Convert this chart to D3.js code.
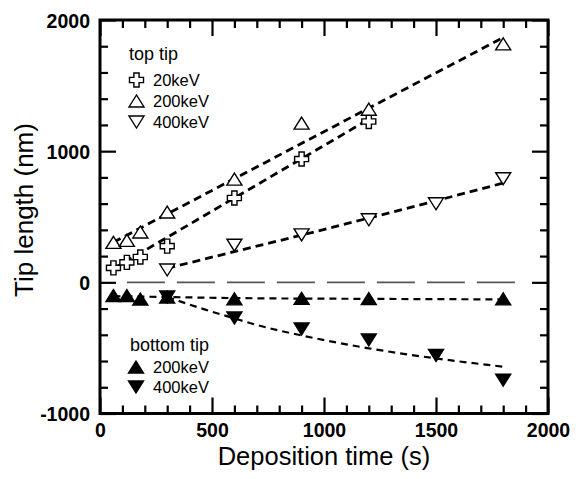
<!DOCTYPE html>
<html>
<head>
<meta charset="utf-8">
<script src="https://cdn.jsdelivr.net/npm/d3@7"></script>
<style>
  body { margin: 0; background: #fff; }
  text { font-family: "Liberation Sans", Arial, sans-serif; fill: #000; }
</style>
</head>
<body>
<div id="chart"></div>
<script>

// Data: deposition time (s) vs tip length (nm)

var top20Time = [60, 120, 180, 300, 600, 900, 1200]
var top20Len = [110, 152, 193, 276, 643, 940, 1226]

var top200Time = [60, 120, 180, 300, 600, 900, 1200, 1800]
var top200Len = [305, 320, 384, 536, 787, 1214, 1320, 1818]

var top400Time = [300, 600, 900, 1200, 1500, 1800]
var top400Len = [94, 283, 362, 477, 599, 790]

var bot200Time = [60, 120, 180, 300, 600, 900, 1200, 1800]
var bot200Len = [-101, -101, -128, -112, -126, -122, -124, -126]

var bot400Time = [300, 600, 900, 1200, 1500, 1800]
var bot400Len = [-112, -272, -355, -439, -558, -746]

// fitted curves, [time, length]
var fitTop20 = [[60, 103], [1200, 1243]]
var fitTop200 = [[60, 306], [1790, 1857]]
var fitTop400 = [[300, 107], [600, 234], [900, 360], [1200, 490], [1500, 622], [1800, 757]]
var fitBot200 = [[60, -105], [300, -112], [600, -120], [1200, -126], [1810, -130]]
var fitBot400 = [[300, -112], [470, -208], [600, -275], [700, -325], [900, -405], [1200, -503], [1500, -580], [1810, -645]]
var zeroLine = [[120, 0], [1880, 0]]

var xMajor = [0, 500, 1000, 1500, 2000]
var yMajor = [-1000, 0, 1000, 2000]

var topLegend = ["20keV", "200keV", "400keV"]
var bottomLegend = ["200keV", "400keV"]


// Layout

var W = 580, H = 479

var svg = d3.select("#chart").append("svg")
  .attr("width", W)
  .attr("height", H)

svg.append("rect").attr("width", W).attr("height", H).attr("fill", "#fff")

var x = d3.scaleLinear().domain([0, 2000]).range([100, 548])
var y = d3.scaleLinear().domain([-1000, 2000]).range([413.5, 20])

var xMinor = d3.range(0, 2001, 100).filter(v => v % 500 != 0)
var yMinor = d3.range(-1000, 2001, 200).filter(v => v % 1000 != 0)

var fmt = d => String(d)


// Axes (ticks point inward on all four sides)

var tickStyle = function (g) {
  g.select(".domain").remove()
  g.selectAll(".tick line").attr("stroke", "#000").attr("stroke-width", 2.2)
  g.selectAll(".tick text")
    .style("font-family", '"Liberation Sans", Arial, sans-serif')
    .style("font-weight", "bold")
    .style("font-size", "19.5px")
    .attr("fill", "#000")
}

var addAxis = function (axis, tx, ty) {
  return svg.append("g")
    .attr("transform", `translate(${tx},${ty})`)
    .call(axis)
    .call(tickStyle)
}

// bottom
addAxis(d3.axisBottom(x).tickValues(xMajor).tickSize(-16).tickPadding(9.5).tickFormat(fmt), 0, y(-1000))
addAxis(d3.axisBottom(x).tickValues(xMinor).tickSize(-8).tickFormat(""), 0, y(-1000))
// top
addAxis(d3.axisTop(x).tickValues(xMajor).tickSize(-16).tickFormat(""), 0, y(2000))
addAxis(d3.axisTop(x).tickValues(xMinor).tickSize(-8).tickFormat(""), 0, y(2000))
// left
addAxis(d3.axisLeft(y).tickValues(yMajor).tickSize(-16).tickPadding(10).tickFormat(fmt), x(0), 0)
  .selectAll(".tick text").attr("dy", "0.38em")
addAxis(d3.axisLeft(y).tickValues(yMinor).tickSize(-8).tickFormat(""), x(0), 0)
// right
addAxis(d3.axisRight(y).tickValues(yMajor).tickSize(-16).tickFormat(""), x(2000), 0)
addAxis(d3.axisRight(y).tickValues(yMinor).tickSize(-8).tickFormat(""), x(2000), 0)

svg.append("rect")
  .attr("x", x(0))
  .attr("y", y(2000))
  .attr("width", x(2000) - x(0))
  .attr("height", y(-1000) - y(2000))
  .attr("fill", "none")
  .attr("stroke", "#000")
  .attr("stroke-width", 3)


// Lines

var line = d3.line().x(d => x(d[0])).y(d => y(d[1]))
var curve = d3.line().x(d => x(d[0])).y(d => y(d[1])).curve(d3.curveMonotoneX)

svg.append("path")
  .attr("d", line(zeroLine))
  .attr("fill", "none")
  .attr("stroke", "#555")
  .attr("stroke-width", 1.6)
  .attr("stroke-dasharray", "38,12")

var fits = [
  { d: fitTop20, gen: line, w: 2.8, dash: "8,5" },
  { d: fitTop200, gen: line, w: 2.8, dash: "8,5" },
  { d: fitTop400, gen: curve, w: 2.8, dash: "8,5" },
  { d: fitBot200, gen: curve, w: 2.2, dash: "7,5" },
  { d: fitBot400, gen: curve, w: 2.2, dash: "7,5" }
]

fits.forEach(function (f) {
  svg.append("path")
    .attr("d", f.gen(f.d))
    .attr("fill", "none")
    .attr("stroke", "#000")
    .attr("stroke-width", f.w)
    .attr("stroke-dasharray", f.dash)
})


// Markers

var triUp = function (w, h) {
  return `M0,${-h / 2}L${w / 2},${h / 2}L${-w / 2},${h / 2}Z`
}
var triDown = function (w, h) {
  return `M0,${h / 2}L${w / 2},${-h / 2}L${-w / 2},${-h / 2}Z`
}
var plus = function (r, q) {
  return `M${-q},${-r}H${q}V${-q}H${r}V${q}H${q}V${r}H${-q}V${q}H${-r}V${-q}H${-q}Z`
}

var shapes = {
  plus: plus(7, 2.6),
  up: triUp(15, 12),
  down: triDown(15, 12)
}

var drawSeries = function (times, lens, shape, filled) {
  svg.append("g")
    .selectAll("path")
    .data(times.map((t, i) => [t, lens[i]]))
    .join("path")
    .attr("transform", d => `translate(${x(d[0])},${y(d[1])})`)
    .attr("d", shapes[shape])
    .attr("fill", filled ? "#000" : "#fff")
    .attr("stroke", "#000")
    .attr("stroke-width", 1.4)
}

drawSeries(top20Time, top20Len, "plus", false)
drawSeries(top200Time, top200Len, "up", false)
drawSeries(top400Time, top400Len, "down", false)
drawSeries(bot200Time, bot200Len, "up", true)
drawSeries(bot400Time, bot400Len, "down", true)


// Legends

var legend = svg.append("g")

legend.append("text")
  .attr("x", 129).attr("y", 60)
  .style("font-size", "18px")
  .text("top tip")

var topShapes = ["plus", "up", "down"]
topLegend.forEach(function (s, i) {
  var cy = 80 + i * 21
  legend.append("path")
    .attr("transform", `translate(136.5,${cy})`)
    .attr("d", shapes[topShapes[i]])
    .attr("fill", "#fff")
    .attr("stroke", "#000")
    .attr("stroke-width", 1.4)
  legend.append("text")
    .attr("x", 153).attr("y", cy + 6)
    .style("font-size", "16.5px")
    .text(s)
})

legend.append("text")
  .attr("x", 130).attr("y", 351)
  .style("font-size", "18px")
  .text("bottom tip")

var botShapes = ["up", "down"]
bottomLegend.forEach(function (s, i) {
  var cy = 367 + i * 20
  legend.append("path")
    .attr("transform", `translate(136,${cy})`)
    .attr("d", shapes[botShapes[i]])
    .attr("fill", "#000")
    .attr("stroke", "#000")
    .attr("stroke-width", 1.4)
  legend.append("text")
    .attr("x", 153).attr("y", cy + 6)
    .style("font-size", "16.5px")
    .text(s)
})


// Axis titles

svg.append("text")
  .attr("x", (x(0) + x(2000)) / 2)
  .attr("y", 464.5)
  .attr("text-anchor", "middle")
  .style("font-size", "25.5px")
  .text("Deposition time (s)")

svg.append("text")
  .attr("transform", "translate(33,210) rotate(-90)")
  .attr("text-anchor", "middle")
  .style("font-size", "26px")
  .text("Tip length (nm)")

</script>
</body>
</html>
